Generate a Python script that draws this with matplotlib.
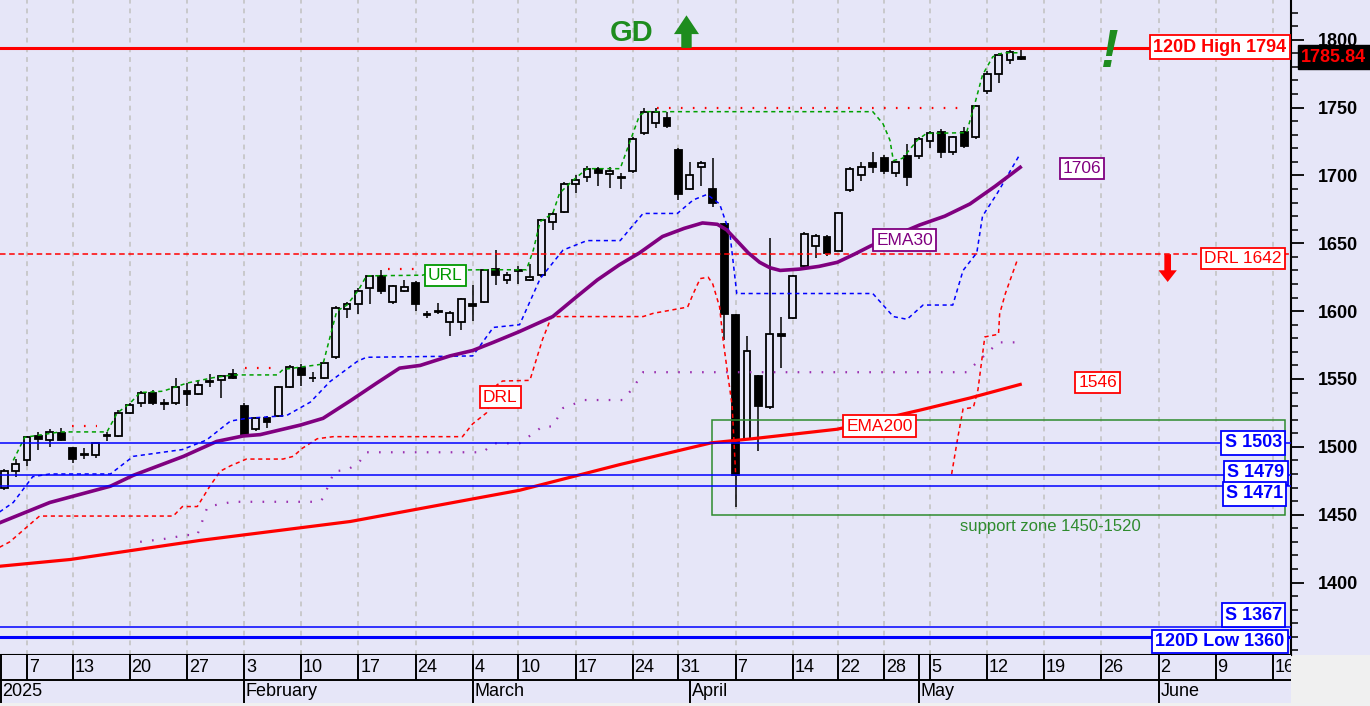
import numpy as np
import matplotlib
matplotlib.use('Agg')
import matplotlib.pyplot as plt
from matplotlib.patches import Rectangle

plt.rcParams['font.family'] = ['Liberation Sans', 'DejaVu Sans']
plt.rcParams['lines.scale_dashes'] = False

nan = np.nan

# trading-day index, 0 = Tue 7 Jan 2025
day = list(range(-2, 88))
opens = [1470, 1482, 1490, 1508, 1505, 1510, 1499, 1494.5, 1494, 1508,
         1508, 1525, 1532, 1540, 1532, 1532, 1541, 1539, 1548, 1549,
         1553.5, 1530, 1513, 1521, 1523, 1544, 1558, 1551, 1551, 1566,
         1601.5, 1605, 1617, 1626, 1606.5, 1615, 1621, 1598, 1600, 1592,
         1592, 1605, 1607, 1631, 1623, 1630, 1623, 1627, 1666, 1673,
         1694, 1699, 1705, 1701, 1698.5, 1703, 1731, 1739, 1742.5, 1719,
         1690, 1706, 1690, 1664, 1597, 1506, 1552, 1529, 1583, 1595,
         1633.5, 1648, 1655, 1644.5, 1689, 1700, 1709, 1712.5, 1702, 1714,
         1714, 1725.5, 1732, 1717, 1732, 1728, 1762, 1775, 1785, 1787]
highs = [1484, 1491, 1508, 1511, 1513, 1514, 1500, 1499, 1503, 1511,
         1527, 1532, 1541, 1542, 1535, 1551, 1547, 1549, 1554, 1553,
         1557, 1532, 1522, 1523, 1545, 1560, 1561, 1555.5, 1562, 1604,
         1606.5, 1617, 1627, 1630, 1619, 1623, 1622, 1600, 1606, 1600,
         1610, 1619, 1631, 1645, 1629, 1633, 1635, 1668, 1673, 1695,
         1700, 1707, 1706, 1706, 1702, 1728, 1750, 1750, 1747, 1720,
         1710, 1711, 1713, 1665, 1598, 1582, 1553, 1654, 1596, 1627,
         1658, 1657, 1656, 1673, 1706, 1710, 1717, 1715, 1711, 1723,
         1728, 1733, 1734, 1729, 1736, 1752, 1777, 1790, 1793, 1792.5]
lows = [1468, 1478, 1486, 1498, 1500, 1504, 1488, 1491, 1492, 1504,
        1507, 1524, 1529, 1531, 1527, 1531, 1530, 1538, 1544, 1536,
        1550, 1507, 1512, 1514, 1522, 1543, 1545, 1548, 1550, 1565,
        1595, 1598, 1605, 1613, 1605, 1614, 1600, 1595, 1598, 1582,
        1586, 1593, 1606, 1619, 1620, 1620, 1622, 1625, 1660, 1672,
        1687, 1695, 1692, 1691, 1690, 1702, 1730, 1735, 1735, 1682,
        1689, 1692, 1677, 1579, 1456, 1505, 1497, 1528, 1558, 1594,
        1632, 1639, 1641, 1644, 1688, 1696, 1702, 1701, 1699, 1692,
        1712, 1720, 1713, 1715, 1720, 1727, 1760, 1768, 1782, 1785]
closes = [1482, 1487, 1507, 1506, 1511, 1505, 1491, 1494, 1503, 1509,
          1525, 1531, 1540, 1532, 1531.5, 1544, 1539, 1545.5, 1548.5, 1552,
          1550.5, 1508, 1521, 1518, 1544, 1558.5, 1553, 1550.5, 1561.5, 1602,
          1605, 1615, 1626, 1615, 1618.5, 1618, 1605, 1597.5, 1599.5, 1598.5,
          1609, 1604, 1630, 1627, 1627, 1629.5, 1625.5, 1667, 1671.5, 1694,
          1696.5, 1705, 1702, 1703.5, 1698, 1727, 1747, 1747, 1736.5, 1686,
          1700, 1709.5, 1679.5, 1598, 1479, 1571, 1530, 1583, 1582, 1626,
          1657, 1655.5, 1643, 1672.5, 1705, 1706, 1706.5, 1703, 1710, 1699,
          1727, 1731, 1717.5, 1728, 1722, 1751, 1775, 1789, 1791, 1785.84]

ema30_x = [-2.4, 2.0, 7.3, 9.3, 13.7, 16.6, 18.9, 20.4, 23.9, 25.9, 28.3, 30.6,
           32.6, 34.4, 37.0, 39.0, 40.8, 43.1, 46.0, 48.0, 49.9, 51.8, 53.6, 55.6,
           57.5, 59.1, 60.4, 61.2, 62.1, 63.1, 64.1, 65.0, 65.9, 67.6, 69.3, 70.9,
           72.4, 73.8, 76.0, 78.1, 80.3, 82.5, 84.7, 86.9]
ema30_y = [1444, 1459, 1471, 1479, 1493, 1504, 1508, 1509, 1516, 1521, 1534, 1547,
           1558, 1560, 1567, 1571, 1577, 1585, 1596, 1610, 1623, 1634, 1643, 1655,
           1661, 1665, 1664, 1660, 1652, 1643, 1636, 1632, 1630, 1631, 1633, 1636,
           1642, 1648, 1656, 1663.5, 1670, 1679, 1692, 1706]

ema200_x = [-2.4, 3.8, 15.1, 28.3, 43.1, 51.9, 59.9, 63.5, 70.9, 78.1, 82.5, 86.9]
ema200_y = [1412, 1417, 1431, 1445, 1468, 1487, 1503, 1506, 1513, 1527, 1536, 1546]

blue_x = [-2.4, -1.2, 0.5, 2.0, 7.3, 9.3, 13.6, 15.7, 17.8, 19.2, 22.7, 24.8,
          26.5, 28.9, 29.7, 39.0, 40.8, 43.1, 44.9, 46.9, 49.0, 51.9, 53.9,
          56.9, 58.3, 59.5, 60.6, 61.5, 62.1, 74.0, 75.8, 77.0, 78.4, 81.0,
          81.9, 83.1, 83.6, 84.9, 86.9]
blue_y = [1452, 1459, 1478, 1480, 1480, 1493, 1498, 1505, 1519, 1521, 1523, 1533,
          1548, 1563, 1566, 1567, 1588, 1590, 1624, 1645, 1652, 1652, 1672,
          1672, 1682, 1686, 1679, 1657, 1613, 1613, 1596, 1594, 1604.5, 1604.5,
          1630, 1643, 1670, 1687, 1716]

url_x = [-1.2, -0.2, 2.9, 7.0, 7.9, 9.0, 9.9, 11.9, 14.0, 16.3, 18.0, 21.9, 22.4,
         25.9, 27.1, 28.0, 29.0, 29.7, 34.6, 36.1, 39.6, 43.7, 44.3, 44.9, 46.0,
         46.6, 47.8, 49.0, 51.9, 52.8, 53.6, 54.2, 74.0, 74.9, 75.5, 75.8, 76.6,
         77.9, 78.7, 82.2, 82.9, 83.6, 84.5, 85.4, 86.9]
url_y = [1490, 1507, 1511, 1511, 1525, 1532, 1540, 1541, 1547, 1551, 1553, 1553, 1557,
         1561, 1600, 1604.5, 1615.5, 1626, 1626.5, 1630, 1630.5, 1630.5, 1645, 1666, 1672,
         1687, 1696.6, 1705, 1705, 1726, 1744.5, 1747, 1747, 1738, 1726, 1711, 1712.6,
         1726, 1731, 1731.5, 1752, 1774, 1787.5, 1790.4, 1790.4]

drl_x = [-2.4, -1.5, 0.0, 1.1, 12.8, 13.6, 14.9, 16.0, 16.9, 17.8, 19.2, 22.4, 23.3,
         24.1, 25.4, 26.8, 38.1, 39.0, 40.2, 41.1, 41.6, 44.0, 45.1, 45.9, 53.9,
         54.8, 56.5, 57.8, 58.3, 58.9, 59.6, 60.0, 60.6, 60.9, 61.3, 61.7, 62.0,
         nan, 80.9, 81.4, 81.9, 82.8, 83.2, 83.8, 85.0, 85.1, 85.6, 86.7]
drl_y = [1426, 1430, 1441, 1449, 1449, 1456, 1456, 1471, 1482, 1486, 1491, 1491, 1493,
         1499, 1506, 1507.5, 1507.5, 1517, 1525, 1545.5, 1548.5, 1549, 1579, 1596, 1596,
         1598.4, 1601, 1603, 1613, 1624, 1625, 1620, 1603, 1579, 1554, 1530, 1480,
         nan, 1480, 1505, 1528, 1529, 1542, 1581, 1583, 1598, 1613, 1639]

hh_x = [3.9, 6.1, nan, 19.1, 22.0, nan, 31.6, 34.0, nan, 55.1, 81.9]
hh_y = [1515, 1515, nan, 1558, 1558, nan, 1631, 1631, nan, 1750, 1750]

pdot_x = [9.9, 11.9, 14.0, 14.9, 15.8, 18.0, 25.6, 25.9, 26.9, 28.0, 29.0, 29.7,
          39.9, 40.8, 43.1, 45.1, 46.0, 46.9, 48.8, 52.1, 53.0, 53.9, 82.2, 85.0, 87.1]
pdot_y = [1430, 1432, 1435, 1435, 1456, 1459.5, 1459.5, 1462, 1482, 1483, 1488, 1496,
          1496, 1502.6, 1502.6, 1515, 1515, 1528.6, 1534.5, 1534.5, 1543, 1555, 1555, 1577, 1577]

week_pos = [0, 4, 9, 14, 19, 24, 29, 34, 39, 43, 48, 53, 57, 62, 67, 71, 75, 79,
            84, 89, 94, 99, 104, 109]
week_lbl = ['7', '13', '20', '27', '3', '10', '17', '24', '4', '10', '17', '24', '31',
            '7', '14', '22', '28', '5', '12', '19', '26', '2', '9', '16']
month_pos = [-2.3, 19, 39, 58, 78, 99]
month_lbl = ['2025', 'February', 'March', 'April', 'May', 'June']

high120 = 1794
low120 = 1360
drl_level = 1642
supports = [1503, 1479, 1471, 1367]
zone_lo, zone_hi = 1450, 1520
last_close = 1785.84
ema30_last = 1706
ema200_last = 1546

BG = '#E6E6F8'
GREEN = '#1E8C1E'
PURPLE = '#800080'

fig = plt.figure(figsize=(13.7, 7.06), dpi=100, facecolor=BG)
ax = fig.add_axes([0, 51 / 706, 1291 / 1370, 655 / 706])
ax.set_facecolor(BG)
ax.set_xlim(-2.36, 110.59)
ax.set_ylim(1346.6, 1829.3)

# weekly grid
for p in week_pos:
    ax.axvline(p, color='#C4C4C4', lw=1.2, ls=(0, (3.5, 3.5)), zorder=0.5)

# candles
for d, op, hi, lo, cl in zip(day, opens, highs, lows, closes):
    ax.plot([d, d], [lo, hi], color='black', lw=1.1, zorder=2, solid_capstyle='butt')
    face = 'black' if cl < op else BG
    ax.add_patch(Rectangle((d - 0.3, min(op, cl)), 0.6, max(abs(cl - op), 0.6),
                           facecolor=face, edgecolor='black', lw=1.3, zorder=2.1))

# indicator lines
ax.plot(hh_x, hh_y, color='red', lw=1.6, ls=(0, (1.2, 7.4)), zorder=3)
ax.plot(pdot_x, pdot_y, color='#9B30B0', lw=1.6, ls=(0, (1.2, 7.4)), zorder=3)
ax.plot(drl_x, drl_y, color='red', lw=1.1, ls=(0, (3, 2.6)), zorder=3)
ax.plot(url_x, url_y, color='#00A000', lw=1.1, ls=(0, (3, 2.6)), zorder=3)
ax.plot(blue_x, blue_y, color='blue', lw=1.1, ls=(0, (3, 2.6)), zorder=3.2)
ax.plot(ema200_x, ema200_y, color='red', lw=2.3, zorder=4)
ax.plot(ema30_x, ema30_y, color=PURPLE, lw=2.6, zorder=4)

# levels
ax.axhline(high120, color='red', lw=2.2, zorder=4)
ax.axhline(drl_level, color='red', lw=1.1, ls=(0, (4, 2.6)), zorder=3)
for s in supports:
    ax.axhline(s, color='blue', lw=1.1, zorder=4)
ax.axhline(low120, color='blue', lw=2.2, zorder=4)
ax.add_patch(Rectangle((59.9, zone_lo), 50.2, zone_hi - zone_lo, fill=False,
                       edgecolor='#2E8B2E', lw=1.1, zorder=3))


def tag(x, y, s, color, ha='center', bold=False, size=12.5):
    ax.text(x, y, s, ha=ha, va='center', color=color, fontsize=size,
            fontweight='bold' if bold else 'normal', zorder=6,
            bbox=dict(boxstyle='square,pad=0.18', facecolor='white',
                      edgecolor=color, lw=1.3))


tag(36.6, 1626, 'URL', '#009900')
tag(41.4, 1536.7, 'DRL', 'red')
tag(76.8, 1652.4, 'EMA30', PURPLE)
tag(74.6, 1515.3, 'EMA200', 'red')
tag(92.3, 1705.3, str(ema30_last), PURPLE)
tag(93.7, 1547.6, str(ema200_last), 'red')
tag(109.8, 1639, f'DRL {drl_level}', 'red', ha='right')
tag(110.2, 1794.6, f'120D High {high120}', 'red', ha='right', bold=True, size=13)
tag(109.8, 1503, f'S {supports[0]}', 'blue', ha='right', bold=True, size=13)
tag(110.0, 1480.9, f'S {supports[1]}', 'blue', ha='right', bold=True, size=13)
tag(109.9, 1465.4, f'S {supports[2]}', 'blue', ha='right', bold=True, size=13)
tag(109.8, 1376, f'S {supports[3]}', 'blue', ha='right', bold=True, size=13)
tag(110.0, 1356.4, f'120D Low {low120}', 'blue', ha='right', bold=True, size=13)

ax.text(89.5, 1441, 'support zone 1450-1520', color='#2E8B2E', fontsize=12,
        ha='center', va='center', zorder=6)
ax.text(52.9, 1805, 'GD', color=GREEN, fontsize=21, fontweight='bold',
        ha='center', va='center', zorder=6)
ax.annotate('', xy=(57.7, 1818), xytext=(57.7, 1794),
            arrowprops=dict(arrowstyle='simple,head_length=0.9,head_width=1.2,tail_width=0.5',
                            mutation_scale=15, color=GREEN, lw=0, shrinkA=0, shrinkB=0), zorder=6)
ax.annotate('', xy=(99.8, 1621.5), xytext=(99.8, 1642),
            arrowprops=dict(arrowstyle='simple,head_length=0.7,head_width=1.1,tail_width=0.4',
                            mutation_scale=12, color='red', lw=0, shrinkA=0, shrinkB=0), zorder=6)
ax.text(94.7, 1790, '!', color=GREEN, fontsize=38, fontweight='bold', style='italic',
        ha='center', va='center', zorder=6)

# right price axis
ax.yaxis.tick_right()
ax.set_yticks(np.arange(1400, 1801, 50))
ax.set_yticks(np.arange(1350, 1830, 10), minor=True)
ax.tick_params(axis='y', which='major', length=9, width=1.3, pad=10, labelsize=13)
ax.tick_params(axis='y', which='minor', length=5, width=1.1)
for t in ax.get_yticklabels():
    t.set_fontweight('bold')
ax.set_xticks([])
for side in ['top', 'left']:
    ax.spines[side].set_visible(False)
for side in ['right', 'bottom']:
    ax.spines[side].set_linewidth(1.5)
    ax.spines[side].set_color('black')

ax.text(1.008, last_close + 1.2, f'{last_close:.2f}', transform=ax.get_yaxis_transform(),
        color='red', fontsize=13, fontweight='bold', ha='left', va='center', zorder=7,
        clip_on=False, bbox=dict(boxstyle='square,pad=0.2', facecolor='black', edgecolor='black'))

# date band
axd = fig.add_axes([0, 3 / 706, 1291 / 1370, 48 / 706])
axd.set_facecolor(BG)
axd.set_xlim(ax.get_xlim())
axd.set_ylim(0, 48)
axd.set_xticks([])
axd.set_yticks([])
for sp in axd.spines.values():
    sp.set_visible(False)
axd.axhline(23, color='black', lw=1.4)
axd.vlines([-2.27, 78] + week_pos, 23, 48, color='black', lw=1.4)
axd.vlines(month_pos, 0, 23, color='black', lw=1.4)
for p, s in zip(week_pos, week_lbl):
    axd.text(p + 0.15, 35.5, s, fontsize=13, ha='left', va='center', clip_on=True)
for p, s in zip(month_pos, month_lbl):
    axd.text(p + 0.15, 11.5, s, fontsize=13, ha='left', va='center', clip_on=True)

fig.add_artist(Rectangle((1291 / 1370, 0), 79 / 1370, 51 / 706, transform=fig.transFigure,
                         facecolor='#F0F0F0', edgecolor='none', zorder=0))
fig.add_artist(Rectangle((0, 0), 1, 3 / 706, transform=fig.transFigure,
                         facecolor='#F0F0F0', edgecolor='none', zorder=0))

fig.savefig('out.png', dpi=100, facecolor=BG)
